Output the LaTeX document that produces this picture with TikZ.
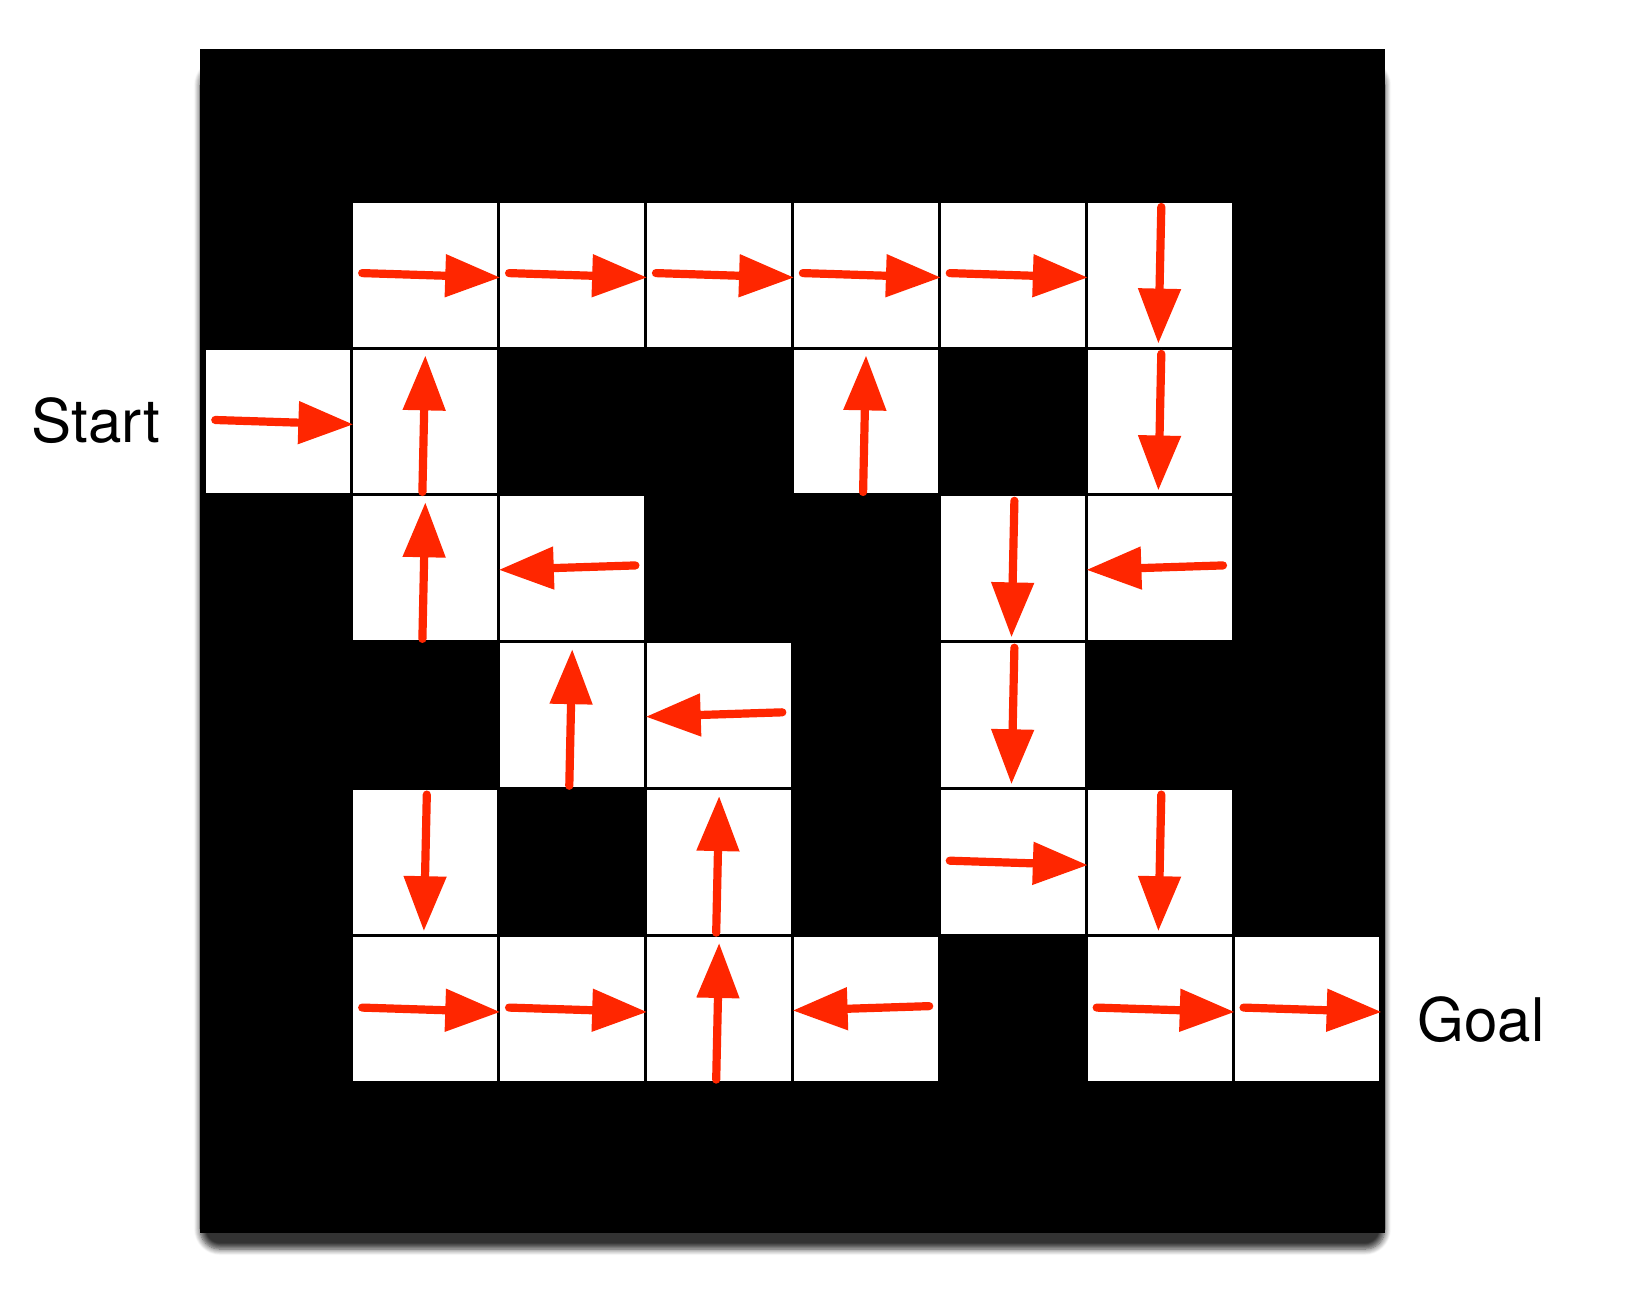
\documentclass[tikz,border=0pt]{standalone}
\usepackage{fontspec}
\setmainfont{TeX Gyre Heros}
\usetikzlibrary{arrows.meta, shadows.blur}
\definecolor{pathred}{RGB}{255,38,0}
\tikzset{
  free/.style={draw=black,fill=white,line width=0.85pt,minimum size=1.469cm,inner sep=0pt},
  move/.style={draw=pathred,line width=0.082cm,line cap=round,-{Triangle[length=0.55cm,width=0.41cm]}},
  label/.style={inner sep=0pt,font=\fontsize{17.1}{20}\selectfont},
}

\begin{document}
\begin{tikzpicture}[x=1.469cm,y=-1.469cm]
	  \useasboundingbox (-1.3955,-0.369) rectangle (9.796,8.576);
	  % shadow and walls
	  \path[rounded corners=0.2cm,blur shadow={shadow xshift=0pt,shadow yshift=-0.16cm,shadow blur radius=0.06cm,shadow blur steps=8,shadow opacity=80}] (-0.034,-0.035) rectangle (8.033,8.025);
	  \fill[black] (-0.034,-0.035) rectangle (8.033,8.025);
	  % free cells
	  \foreach \c/\r in {1/1,2/1,3/1,4/1,5/1,6/1,0/2,1/2,4/2,6/2,1/3,2/3,5/3,6/3,2/4,3/4,5/4,1/5,3/5,5/5,6/5,1/6,2/6,3/6,4/6,6/6,7/6}
	    \node at (\c+0.5,\r+0.5) (cell\c\r) [free]{};
	  % right
	  \foreach \c/\r in {1/1,2/1,3/1,4/1,5/1,0/2,5/5,1/6,2/6,6/6,7/6}
	    \draw[move] (\c+0.07,\r+0.49) -- (\c+1.01,\r+0.52);
	  % left
	  \foreach \c/\r in {2/3,6/3,3/4,4/6}
	    \draw[move] (\c+0.93,\r+0.48) -- (\c,\r+0.51);
	  % up
	  \foreach \c/\r in {1/2,4/2,1/3,2/4,3/5,3/6}
	    \draw[move] (\c+0.48,\r+0.98) -- (\c+0.5,\r+0.05);
	  % down
	  \foreach \c/\r in {6/1,6/2,5/3,5/4,1/5,6/5}
	    \draw[move] (\c+0.51,\r+0.04) -- (\c+0.49,\r+0.97);
	  \node at (-0.30,2.646) (start) [label,anchor=base east]{Start};
	  \node at (8.25,6.724) (goal) [label,anchor=base west]{Goal};
	\end{tikzpicture}
\end{document}
